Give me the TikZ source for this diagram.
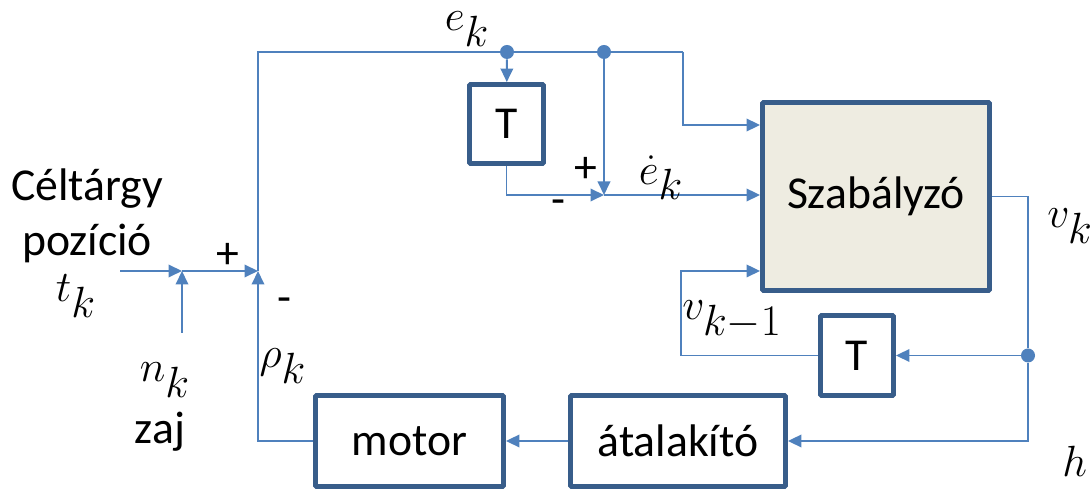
\documentclass[tikz,border=0pt]{standalone}
\usepackage{fontspec}
\setmainfont{Carlito}
\usetikzlibrary{arrows.meta}
\definecolor{wire}{HTML}{4F81BD}
\definecolor{frame}{HTML}{385D8A}
\definecolor{szfill}{HTML}{EEECE1}

\begin{document}
\begin{tikzpicture}[x=0.02cm,y=-0.02cm,>={Triangle[length=0.27cm,width=0.25cm]},
  wire/.style={draw=wire,line width=1.1pt},
  blk/.style={draw=frame,line width=2.8pt,rounded corners=0.6pt,inner sep=0pt,
              font=\fontsize{26}{30}\selectfont},
  lbl/.style={font=\fontsize{26}{31}\selectfont,inner sep=0pt},
  mlbl/.style={font=\fontsize{33}{36}\selectfont,inner sep=0pt},
  dot/.style={circle,fill=wire,inner sep=0pt,minimum size=0.28cm}]
  \useasboundingbox (0,0) rectangle (1090,492);
  \clip (0,0) rectangle (1090,492);
  % blocks
  \node[blk,fill=szfill,minimum width=4.54cm,minimum height=3.76cm] (szab) at (876,196.5) {Szabályzó};
  \node[blk,minimum width=1.48cm,minimum height=1.58cm] (T1) at (506.5,124) {T};
  \node[blk,minimum width=1.46cm,minimum height=1.6cm] (T2) at (857,355.5) {T};
  \node[blk,minimum width=3.76cm,minimum height=1.82cm] (motor) at (409.5,441) {motor};
  \node[blk,minimum width=4.3cm,minimum height=1.82cm] (atal) at (678,441) {átalakító};
  % junctions
  \coordinate (sumA) at (182,271);
  \coordinate (sumB) at (258,271);
  \coordinate (sumC) at (604,195);
  \coordinate (tin) at (120,271);
  \coordinate (nin) at (182,333);
  \coordinate (cTop) at (683,52);
  \coordinate (cLow) at (681,355.5);
  \node[dot] (d1) at (507,52) {};
  \node[dot] (d2) at (604,52) {};
  \node[dot] (d3) at (1028,355.5) {};
  % connectors
  \draw[wire,->] (tin) -- (sumA);
  \draw[wire,->] (nin) -- (sumA);
  \draw[wire,->] (sumA) -- (sumB);
  \draw[wire,->] (motor) -| (sumB);
  \draw[wire] (sumB) |- (d1) -- (d2) -- (cTop);
  \draw[wire,->] (cTop) |- ([yshift=1.43cm]szab.west);
  \draw[wire,->] (d1) -- (T1);
  \draw[wire,->] (T1) |- (sumC);
  \draw[wire,->] (d2) -- (sumC);
  \draw[wire,->] (sumC) -- (szab.west |- sumC);
  \draw[wire] (szab.east) -| (d3);
  \draw[wire,->] (d3) |- (atal.east);
  \draw[wire,->] (d3) -- (T2);
  \draw[wire,->] (T2) -- (cLow) |- ([yshift=-1.49cm]szab.west);
  \draw[wire,->] (atal) -- (motor);
  % labels
  \node[lbl,align=center] (cel) at (87,216) {Céltárgy\\pozíció};
  \node[mlbl] (tk) at (76,296) {$t_k$};
  \node[mlbl] (nk) at (165,380) {$n_k$};
  \node[lbl] (zaj) at (160,432) {zaj};
  \node[mlbl] (rho) at (283,366) {$\rho_k$};
  \node[mlbl] (ek) at (467,29) {$e_k$};
  \node[mlbl] (edk) at (661,178) {$\dot e_k$};
  \node[mlbl,anchor=west] (vk1) at (682,320) {$v_{k-1}$};
  \node[mlbl,anchor=west] (vk) at (1047,226) {$v_k$};
  \node[mlbl,anchor=west] (h) at (1062,461) {$h$};
  \node[lbl] (pB) at (228,256) {+};
  \node[lbl] (mB) at (284,305) {-};
  \node[lbl] (pC) at (586,170) {+};
  \node[lbl] (mC) at (558,207) {-};
\end{tikzpicture}
\end{document}
